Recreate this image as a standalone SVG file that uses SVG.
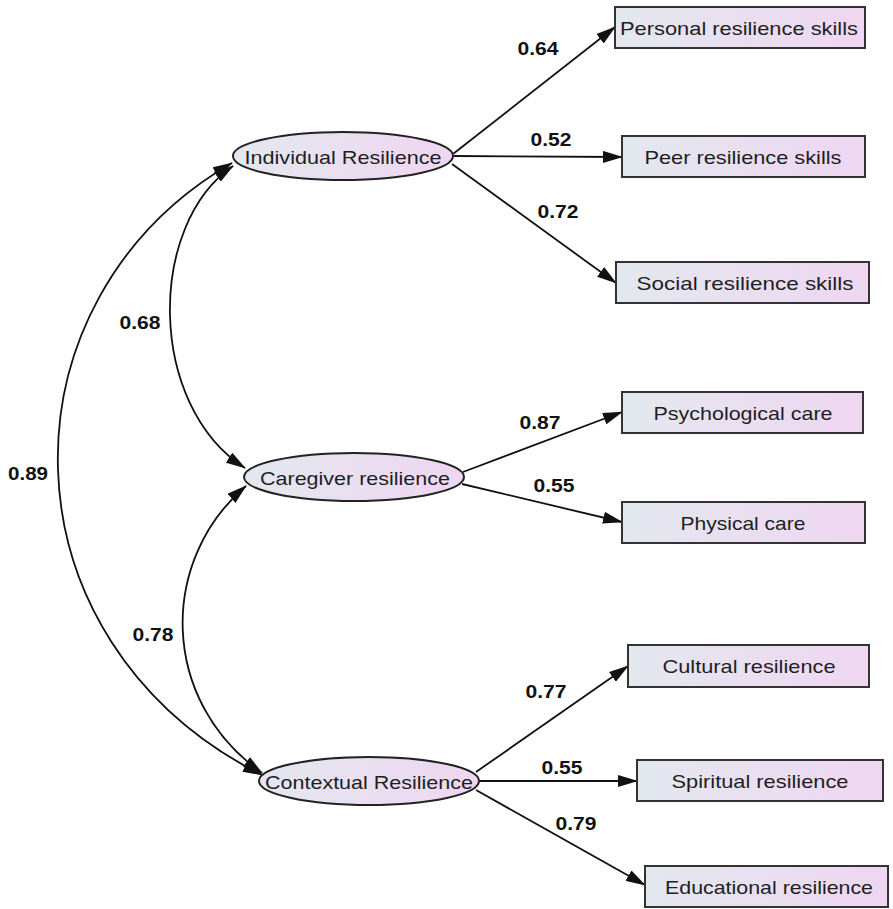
<svg xmlns="http://www.w3.org/2000/svg" width="893" height="909" viewBox="0 0 893 909">
<style>
.bg{fill:#fff}
.node{fill:url(#g);stroke:#222;stroke-width:2}
.box{fill:url(#g);stroke:#333;stroke-width:2}
.t{font-family:"Liberation Sans",Arial,sans-serif;font-size:19px;fill:#1e1e24;text-anchor:middle;dominant-baseline:central}
.w{font-family:"Liberation Sans",Arial,sans-serif;font-size:18px;font-weight:bold;fill:#111;text-anchor:middle;dominant-baseline:central}
.e{fill:none;stroke:#111;stroke-width:1.8}
</style>
<defs>
<linearGradient id="g" x1="0" y1="0" x2="1" y2="0">
<stop offset="0" stop-color="#e3e8ef"/>
<stop offset="1" stop-color="#efd6f1"/>
</linearGradient>
<marker id="a" viewBox="0 0 20 12" refX="19" refY="6" markerWidth="20" markerHeight="12" markerUnits="userSpaceOnUse" orient="auto-start-reverse">
<path d="M0,0 L20,6 L0,12 z" fill="#111"/>
</marker>
</defs>
<rect class="bg" width="893" height="909"/>
<g id="connectors">
<path class="e" d="M453,154 L615,27" marker-end="url(#a)"/>
<path class="e" d="M454,156 L622,157" marker-end="url(#a)"/>
<path class="e" d="M452,164 L616,283" marker-end="url(#a)"/>
<path class="e" d="M463,472 L622,412" marker-end="url(#a)"/>
<path class="e" d="M462,484 L622,522" marker-end="url(#a)"/>
<path class="e" d="M476,772 L628,666" marker-end="url(#a)"/>
<path class="e" d="M479,781 L637,781" marker-end="url(#a)"/>
<path class="e" d="M476,790 L645,885" marker-end="url(#a)"/>
<path class="e" d="M233,166 C147,225 147,405 245,468" marker-start="url(#a)" marker-end="url(#a)"/>
<path class="e" d="M246,486 C159,560 159,700 262,773" marker-start="url(#a)" marker-end="url(#a)"/>
<path class="e" d="M232,163 C-5,300 -5,640 262,775" marker-start="url(#a)" marker-end="url(#a)"/>
<text class="w" x="538" y="49" textLength="41" lengthAdjust="spacingAndGlyphs">0.64</text>
<text class="w" x="551" y="140" textLength="41" lengthAdjust="spacingAndGlyphs">0.52</text>
<text class="w" x="558" y="212" textLength="41" lengthAdjust="spacingAndGlyphs">0.72</text>
<text class="w" x="140" y="323" textLength="41" lengthAdjust="spacingAndGlyphs">0.68</text>
<text class="w" x="28" y="474" textLength="40" lengthAdjust="spacingAndGlyphs">0.89</text>
<text class="w" x="540" y="423" textLength="41" lengthAdjust="spacingAndGlyphs">0.87</text>
<text class="w" x="554" y="486" textLength="41" lengthAdjust="spacingAndGlyphs">0.55</text>
<text class="w" x="153" y="635" textLength="41" lengthAdjust="spacingAndGlyphs">0.78</text>
<text class="w" x="546" y="692" textLength="41" lengthAdjust="spacingAndGlyphs">0.77</text>
<text class="w" x="562" y="768" textLength="41" lengthAdjust="spacingAndGlyphs">0.55</text>
<text class="w" x="576" y="824" textLength="41" lengthAdjust="spacingAndGlyphs">0.79</text>
</g>
<g id="individual"><ellipse class="node" cx="343" cy="156" rx="110" ry="24"/><text class="t" x="343" y="157" textLength="197" lengthAdjust="spacingAndGlyphs">Individual Resilience</text></g>
<g id="caregiver"><ellipse class="node" cx="354" cy="477" rx="110" ry="24"/><text class="t" x="355" y="478" textLength="190" lengthAdjust="spacingAndGlyphs">Caregiver resilience</text></g>
<g id="contextual"><ellipse class="node" cx="369" cy="781" rx="110" ry="24"/><text class="t" x="369" y="782" textLength="208" lengthAdjust="spacingAndGlyphs">Contextual Resilience</text></g>
<g id="personal"><rect class="box" x="615" y="7" width="250" height="41"/><text class="t" x="739" y="28" textLength="238" lengthAdjust="spacingAndGlyphs">Personal resilience skills</text></g>
<g id="peer"><rect class="box" x="622" y="136" width="243" height="41"/><text class="t" x="743" y="157" textLength="197" lengthAdjust="spacingAndGlyphs">Peer resilience skills</text></g>
<g id="social"><rect class="box" x="616" y="262" width="253" height="41"/><text class="t" x="745" y="283" textLength="217" lengthAdjust="spacingAndGlyphs">Social resilience skills</text></g>
<g id="psych"><rect class="box" x="622" y="392" width="241" height="41"/><text class="t" x="743" y="413" textLength="179" lengthAdjust="spacingAndGlyphs">Psychological care</text></g>
<g id="physical"><rect class="box" x="622" y="502" width="243" height="41"/><text class="t" x="743" y="523" textLength="125" lengthAdjust="spacingAndGlyphs">Physical care</text></g>
<g id="cultural"><rect class="box" x="628" y="645" width="241" height="42"/><text class="t" x="749" y="666" textLength="173" lengthAdjust="spacingAndGlyphs">Cultural resilience</text></g>
<g id="spiritual"><rect class="box" x="637" y="760" width="246" height="41"/><text class="t" x="760" y="781" textLength="177" lengthAdjust="spacingAndGlyphs">Spiritual resilience</text></g>
<g id="educational"><rect class="box" x="645" y="866" width="243" height="41"/><text class="t" x="769" y="887" textLength="208" lengthAdjust="spacingAndGlyphs">Educational resilience</text></g>
</svg>
